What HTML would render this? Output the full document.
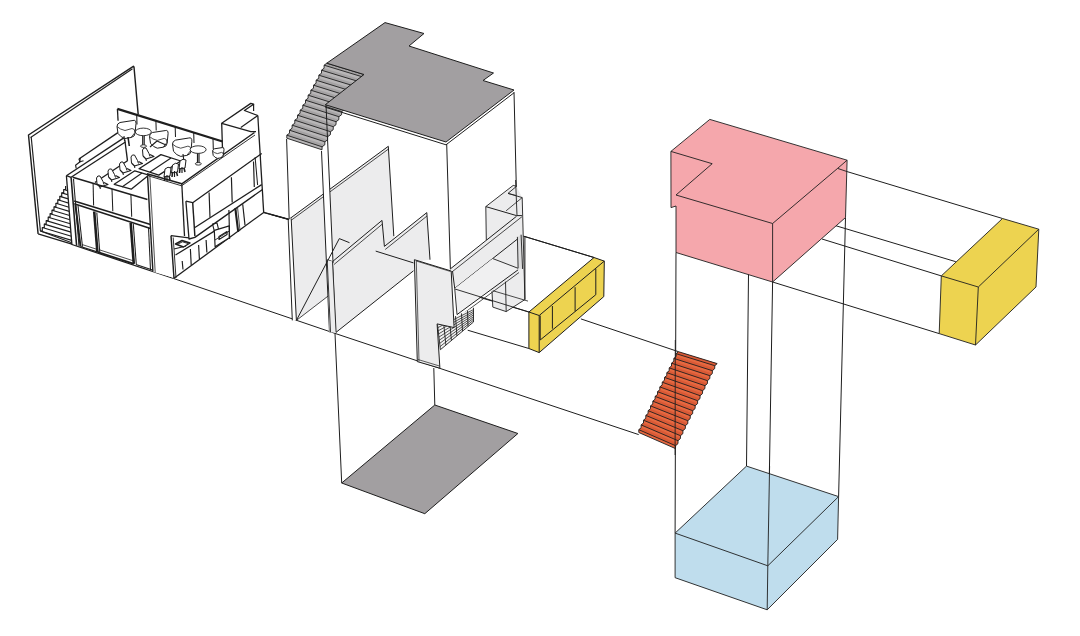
<!DOCTYPE html>
<html><head><meta charset="utf-8"><style>
html,body{margin:0;padding:0;background:#fff;}
svg{display:block;}
</style></head><body>
<svg width="1080" height="636" viewBox="0 0 1080 636">
<rect width="1080" height="636" fill="#fff"/>
<polyline points="173.6,278.5 335.0,333.4 438.8,368.0 638.7,434.6" fill="none" stroke="#1e1e1e" stroke-width="1.0" stroke-linejoin="round"/>
<line x1="263.2" y1="212.4" x2="289.2" y2="219.5" stroke="#1e1e1e" stroke-width="1.0"/>
<line x1="270.0" y1="214.2" x2="289.2" y2="219.5" stroke="#1e1e1e" stroke-width="1.0"/>
<line x1="375.7" y1="250.7" x2="414.7" y2="263.3" stroke="#1e1e1e" stroke-width="1.0"/>
<line x1="521.6" y1="235.6" x2="594.0" y2="257.5" stroke="#1e1e1e" stroke-width="1.0"/>
<line x1="580.9" y1="318.9" x2="678.5" y2="351.7" stroke="#1e1e1e" stroke-width="1.0"/>
<line x1="467.7" y1="330.2" x2="528.9" y2="348.5" stroke="#1e1e1e" stroke-width="1.0"/>
<line x1="455.0" y1="290.0" x2="528.9" y2="312.0" stroke="#1e1e1e" stroke-width="1.0"/>
<line x1="335.0" y1="333.4" x2="341.7" y2="483.0" stroke="#1e1e1e" stroke-width="1.0"/>
<line x1="433.8" y1="368.0" x2="434.8" y2="405.0" stroke="#1e1e1e" stroke-width="1.0"/>
<line x1="676.0" y1="252.5" x2="675.1" y2="533.1" stroke="#1e1e1e" stroke-width="1.0"/>
<line x1="748.6" y1="265.0" x2="746.5" y2="466.1" stroke="#1e1e1e" stroke-width="1.0"/>
<line x1="772.6" y1="282.0" x2="767.8" y2="565.8" stroke="#1e1e1e" stroke-width="1.0"/>
<line x1="845.5" y1="217.5" x2="838.6" y2="496.6" stroke="#1e1e1e" stroke-width="1.0"/>
<line x1="847.1" y1="171.6" x2="1002.5" y2="218.5" stroke="#1e1e1e" stroke-width="1.0"/>
<line x1="835.4" y1="225.6" x2="955.8" y2="261.7" stroke="#1e1e1e" stroke-width="1.0"/>
<line x1="822.0" y1="239.0" x2="941.3" y2="275.9" stroke="#1e1e1e" stroke-width="1.0"/>
<line x1="772.6" y1="282.0" x2="939.2" y2="333.6" stroke="#1e1e1e" stroke-width="1.0"/>
<polygon points="434.8,405.0 517.9,433.5 424.8,513.7 341.7,483.0" fill="#a29fa1" stroke="#1e1e1e" stroke-width="1.0" stroke-linejoin="round"/>
<polygon points="709.8,119.4 847.1,160.2 845.5,217.5 772.6,282.0 676.0,252.5 676.0,206.0 671.0,207.6 670.9,151.4" fill="#f5a7ac" stroke="#1e1e1e" stroke-width="0.9" stroke-linejoin="round"/>
<polyline points="670.9,151.4 712.2,163.7 676.0,195.0 772.6,223.5 837.6,168.4 847.1,160.2" fill="none" stroke="#1e1e1e" stroke-width="0.9" stroke-linejoin="round"/>
<line x1="772.6" y1="223.5" x2="772.6" y2="282.0" stroke="#1e1e1e" stroke-width="0.9"/>
<line x1="837.6" y1="168.4" x2="847.1" y2="171.6" stroke="#1e1e1e" stroke-width="0.9"/>
<polygon points="746.5,466.1 838.6,496.6 837.6,539.4 767.2,609.8 675.1,577.7 675.1,533.1" fill="#bfdded" stroke="#1e1e1e" stroke-width="0.9" stroke-linejoin="round"/>
<polyline points="675.1,533.1 767.8,565.8 838.6,496.6" fill="none" stroke="#1e1e1e" stroke-width="0.9" stroke-linejoin="round"/>
<line x1="767.8" y1="565.8" x2="767.2" y2="609.8" stroke="#1e1e1e" stroke-width="0.9"/>
<line x1="769.6" y1="466.0" x2="767.8" y2="565.8" stroke="#1e1e1e" stroke-width="0.9"/>
<polygon points="1002.5,218.5 1038.8,229.2 1036.0,287.0 975.5,345.0 939.2,333.6 941.3,275.9" fill="#edd350" stroke="#1e1e1e" stroke-width="0.9" stroke-linejoin="round"/>
<polyline points="941.3,275.9 978.3,287.0 1038.8,229.2" fill="none" stroke="#1e1e1e" stroke-width="0.9" stroke-linejoin="round"/>
<line x1="978.3" y1="287.0" x2="975.5" y2="345.0" stroke="#1e1e1e" stroke-width="0.9"/>
<polygon points="594.0,257.5 604.3,261.1 603.8,296.6 539.2,352.6 528.9,348.5 528.9,312.0" fill="#edd350" stroke="#1e1e1e" stroke-width="1.0" stroke-linejoin="round"/>
<polyline points="528.9,312.0 539.2,315.5 604.3,261.1" fill="none" stroke="#1e1e1e" stroke-width="1.0" stroke-linejoin="round"/>
<line x1="539.2" y1="315.5" x2="539.2" y2="352.6" stroke="#1e1e1e" stroke-width="1.0"/>
<polyline points="540.2,315.5 540.2,340.0 595.8,294.7 595.8,268.7" fill="none" stroke="#1e1e1e" stroke-width="1.0" stroke-linejoin="round"/>
<line x1="552.4" y1="306.0" x2="552.4" y2="328.7" stroke="#1e1e1e" stroke-width="1.0"/>
<line x1="575.1" y1="287.2" x2="575.1" y2="311.3" stroke="#1e1e1e" stroke-width="1.0"/>
<polygon points="678.5,351.7 676.2,353.7 676.2,356.5 673.8,358.4 673.8,361.2 671.5,363.2 671.5,366.0 669.2,367.9 669.2,370.7 666.8,372.7 666.8,375.5 664.5,377.4 664.5,380.2 662.2,382.2 662.2,385.0 659.8,386.9 659.8,389.7 657.5,391.7 657.5,394.5 655.1,396.4 655.1,399.2 652.8,401.2 652.8,404.0 650.5,405.9 650.5,408.7 648.1,410.7 648.1,413.5 645.8,415.4 645.8,418.2 643.5,420.2 643.5,423.0 641.1,424.9 641.1,427.7 638.8,429.7 638.8,432.5 675.5,448.6 675.6,445.7 678.0,443.6 678.0,440.7 680.4,438.6 680.5,435.7 682.9,433.6 682.9,430.7 685.3,428.6 685.4,425.7 687.8,423.6 687.8,420.7 690.2,418.6 690.3,415.7 692.7,413.6 692.7,410.7 695.1,408.6 695.2,405.7 697.6,403.6 697.6,400.7 700.0,398.6 700.1,395.7 702.5,393.6 702.6,390.7 704.9,388.6 705.0,385.7 707.4,383.6 707.5,380.7 709.8,378.6 709.9,375.7 712.3,373.6 712.4,370.7 714.7,368.6 714.8,365.7 717.2,363.6" fill="#e66840" stroke="none" stroke-linejoin="round"/>
<polygon points="678.5,351.7 717.2,363.6 714.8,365.7 676.2,353.7" fill="#d95a36" stroke="none" stroke-linejoin="round"/>
<polygon points="676.2,356.5 714.7,368.6 712.4,370.7 673.8,358.4" fill="#d95a36" stroke="none" stroke-linejoin="round"/>
<polygon points="673.8,361.2 712.3,373.6 709.9,375.7 671.5,363.2" fill="#d95a36" stroke="none" stroke-linejoin="round"/>
<polygon points="671.5,366.0 709.8,378.6 707.5,380.7 669.2,367.9" fill="#d95a36" stroke="none" stroke-linejoin="round"/>
<polygon points="669.2,370.7 707.4,383.6 705.0,385.7 666.8,372.7" fill="#d95a36" stroke="none" stroke-linejoin="round"/>
<polygon points="666.8,375.5 704.9,388.6 702.6,390.7 664.5,377.4" fill="#d95a36" stroke="none" stroke-linejoin="round"/>
<polygon points="664.5,380.2 702.5,393.6 700.1,395.7 662.2,382.2" fill="#d95a36" stroke="none" stroke-linejoin="round"/>
<polygon points="662.2,385.0 700.0,398.6 697.6,400.7 659.8,386.9" fill="#d95a36" stroke="none" stroke-linejoin="round"/>
<polygon points="659.8,389.7 697.6,403.6 695.2,405.7 657.5,391.7" fill="#d95a36" stroke="none" stroke-linejoin="round"/>
<polygon points="657.5,394.5 695.1,408.6 692.7,410.7 655.1,396.4" fill="#d95a36" stroke="none" stroke-linejoin="round"/>
<polygon points="655.1,399.2 692.7,413.6 690.3,415.7 652.8,401.2" fill="#d95a36" stroke="none" stroke-linejoin="round"/>
<polygon points="652.8,404.0 690.2,418.6 687.8,420.7 650.5,405.9" fill="#d95a36" stroke="none" stroke-linejoin="round"/>
<polygon points="650.5,408.7 687.8,423.6 685.4,425.7 648.1,410.7" fill="#d95a36" stroke="none" stroke-linejoin="round"/>
<polygon points="648.1,413.5 685.3,428.6 682.9,430.7 645.8,415.4" fill="#d95a36" stroke="none" stroke-linejoin="round"/>
<polygon points="645.8,418.2 682.9,433.6 680.5,435.7 643.5,420.2" fill="#d95a36" stroke="none" stroke-linejoin="round"/>
<polygon points="643.5,423.0 680.4,438.6 678.0,440.7 641.1,424.9" fill="#d95a36" stroke="none" stroke-linejoin="round"/>
<polygon points="641.1,427.7 678.0,443.6 675.6,445.7 638.8,429.7" fill="#d95a36" stroke="none" stroke-linejoin="round"/>
<polyline points="676.2,353.7 714.8,365.7" fill="none" stroke="#1e1e1e" stroke-width="0.9" stroke-linejoin="round"/>
<polyline points="673.8,358.4 712.4,370.7" fill="none" stroke="#1e1e1e" stroke-width="0.9" stroke-linejoin="round"/>
<polyline points="671.5,363.2 709.9,375.7" fill="none" stroke="#1e1e1e" stroke-width="0.9" stroke-linejoin="round"/>
<polyline points="669.2,367.9 707.5,380.7" fill="none" stroke="#1e1e1e" stroke-width="0.9" stroke-linejoin="round"/>
<polyline points="666.8,372.7 705.0,385.7" fill="none" stroke="#1e1e1e" stroke-width="0.9" stroke-linejoin="round"/>
<polyline points="664.5,377.4 702.6,390.7" fill="none" stroke="#1e1e1e" stroke-width="0.9" stroke-linejoin="round"/>
<polyline points="662.2,382.2 700.1,395.7" fill="none" stroke="#1e1e1e" stroke-width="0.9" stroke-linejoin="round"/>
<polyline points="659.8,386.9 697.6,400.7" fill="none" stroke="#1e1e1e" stroke-width="0.9" stroke-linejoin="round"/>
<polyline points="657.5,391.7 695.2,405.7" fill="none" stroke="#1e1e1e" stroke-width="0.9" stroke-linejoin="round"/>
<polyline points="655.1,396.4 692.7,410.7" fill="none" stroke="#1e1e1e" stroke-width="0.9" stroke-linejoin="round"/>
<polyline points="652.8,401.2 690.3,415.7" fill="none" stroke="#1e1e1e" stroke-width="0.9" stroke-linejoin="round"/>
<polyline points="650.5,405.9 687.8,420.7" fill="none" stroke="#1e1e1e" stroke-width="0.9" stroke-linejoin="round"/>
<polyline points="648.1,410.7 685.4,425.7" fill="none" stroke="#1e1e1e" stroke-width="0.9" stroke-linejoin="round"/>
<polyline points="645.8,415.4 682.9,430.7" fill="none" stroke="#1e1e1e" stroke-width="0.9" stroke-linejoin="round"/>
<polyline points="643.5,420.2 680.5,435.7" fill="none" stroke="#1e1e1e" stroke-width="0.9" stroke-linejoin="round"/>
<polyline points="641.1,424.9 678.0,440.7" fill="none" stroke="#1e1e1e" stroke-width="0.9" stroke-linejoin="round"/>
<polyline points="638.8,429.7 675.6,445.7" fill="none" stroke="#1e1e1e" stroke-width="0.9" stroke-linejoin="round"/>
<polyline points="638.8,432.5 675.5,448.6" fill="none" stroke="#1e1e1e" stroke-width="0.9" stroke-linejoin="round"/>
<polyline points="678.5,351.7 717.2,363.6" fill="none" stroke="#1e1e1e" stroke-width="0.9" stroke-linejoin="round"/>
<polyline points="678.5,351.7 676.2,353.7 676.2,356.5 673.8,358.4 673.8,361.2 671.5,363.2 671.5,366.0 669.2,367.9 669.2,370.7 666.8,372.7 666.8,375.5 664.5,377.4 664.5,380.2 662.2,382.2 662.2,385.0 659.8,386.9 659.8,389.7 657.5,391.7 657.5,394.5 655.1,396.4 655.1,399.2 652.8,401.2 652.8,404.0 650.5,405.9 650.5,408.7 648.1,410.7 648.1,413.5 645.8,415.4 645.8,418.2 643.5,420.2 643.5,423.0 641.1,424.9 641.1,427.7 638.8,429.7 638.8,432.5" fill="none" stroke="#1e1e1e" stroke-width="0.9" stroke-linejoin="round"/>
<polyline points="717.2,363.6 714.8,365.7 714.7,368.6 712.4,370.7 712.3,373.6 709.9,375.7 709.8,378.6 707.5,380.7 707.4,383.6 705.0,385.7 704.9,388.6 702.6,390.7 702.5,393.6 700.1,395.7 700.0,398.6 697.6,400.7 697.6,403.6 695.2,405.7 695.1,408.6 692.7,410.7 692.7,413.6 690.3,415.7 690.2,418.6 687.8,420.7 687.8,423.6 685.4,425.7 685.3,428.6 682.9,430.7 682.9,433.6 680.5,435.7 680.4,438.6 678.0,440.7 678.0,443.6 675.6,445.7 675.5,448.6" fill="none" stroke="#1e1e1e" stroke-width="0.9" stroke-linejoin="round"/>
<line x1="675.3" y1="340.0" x2="675.1" y2="455.0" stroke="#1e1e1e" stroke-width="0.9"/>
<polygon points="326.8,63.2 324.1,65.2 324.1,68.2 321.5,70.2 321.5,73.2 318.8,75.2 318.8,78.2 316.1,80.2 316.1,83.2 313.5,85.2 313.5,88.2 310.8,90.2 310.8,93.2 308.1,95.2 308.1,98.2 305.5,100.2 305.5,103.2 302.8,105.2 302.8,108.2 300.1,110.2 300.1,113.2 297.5,115.2 297.5,118.2 294.8,120.2 294.8,123.2 292.1,125.2 292.1,128.2 289.5,130.2 289.5,133.2 286.8,135.2 286.8,138.2 322.0,149.8 322.1,146.8 324.8,144.8 324.9,141.8 327.6,139.8 327.7,136.7 330.4,134.7 330.5,131.7 333.2,129.7 333.3,126.7 336.0,124.7 336.1,121.7 338.8,119.7 338.9,116.7 341.6,114.7 341.7,111.6 344.4,109.6 344.5,106.6 347.2,104.6 347.3,101.6 350.0,99.6 350.1,96.6 352.8,94.6 352.9,91.6 355.6,89.6 355.7,86.5 358.4,84.5 358.5,81.5 361.2,79.5 361.3,76.5 364.0,74.5" fill="#b8b6b7" stroke="none" stroke-linejoin="round"/>
<polygon points="326.8,63.2 364.0,74.5 361.3,76.5 324.1,65.2" fill="#a5a3a4" stroke="none" stroke-linejoin="round"/>
<polygon points="324.1,68.2 361.2,79.5 358.5,81.5 321.5,70.2" fill="#a5a3a4" stroke="none" stroke-linejoin="round"/>
<polygon points="321.5,73.2 358.4,84.5 355.7,86.5 318.8,75.2" fill="#a5a3a4" stroke="none" stroke-linejoin="round"/>
<polygon points="318.8,78.2 355.6,89.6 352.9,91.6 316.1,80.2" fill="#a5a3a4" stroke="none" stroke-linejoin="round"/>
<polygon points="316.1,83.2 352.8,94.6 350.1,96.6 313.5,85.2" fill="#a5a3a4" stroke="none" stroke-linejoin="round"/>
<polygon points="313.5,88.2 350.0,99.6 347.3,101.6 310.8,90.2" fill="#a5a3a4" stroke="none" stroke-linejoin="round"/>
<polygon points="310.8,93.2 347.2,104.6 344.5,106.6 308.1,95.2" fill="#a5a3a4" stroke="none" stroke-linejoin="round"/>
<polygon points="308.1,98.2 344.4,109.6 341.7,111.6 305.5,100.2" fill="#a5a3a4" stroke="none" stroke-linejoin="round"/>
<polygon points="305.5,103.2 341.6,114.7 338.9,116.7 302.8,105.2" fill="#a5a3a4" stroke="none" stroke-linejoin="round"/>
<polygon points="302.8,108.2 338.8,119.7 336.1,121.7 300.1,110.2" fill="#a5a3a4" stroke="none" stroke-linejoin="round"/>
<polygon points="300.1,113.2 336.0,124.7 333.3,126.7 297.5,115.2" fill="#a5a3a4" stroke="none" stroke-linejoin="round"/>
<polygon points="297.5,118.2 333.2,129.7 330.5,131.7 294.8,120.2" fill="#a5a3a4" stroke="none" stroke-linejoin="round"/>
<polygon points="294.8,123.2 330.4,134.7 327.7,136.7 292.1,125.2" fill="#a5a3a4" stroke="none" stroke-linejoin="round"/>
<polygon points="292.1,128.2 327.6,139.8 324.9,141.8 289.5,130.2" fill="#a5a3a4" stroke="none" stroke-linejoin="round"/>
<polygon points="289.5,133.2 324.8,144.8 322.1,146.8 286.8,135.2" fill="#a5a3a4" stroke="none" stroke-linejoin="round"/>
<polyline points="324.1,65.2 361.3,76.5" fill="none" stroke="#1e1e1e" stroke-width="0.9" stroke-linejoin="round"/>
<polyline points="321.5,70.2 358.5,81.5" fill="none" stroke="#1e1e1e" stroke-width="0.9" stroke-linejoin="round"/>
<polyline points="318.8,75.2 355.7,86.5" fill="none" stroke="#1e1e1e" stroke-width="0.9" stroke-linejoin="round"/>
<polyline points="316.1,80.2 352.9,91.6" fill="none" stroke="#1e1e1e" stroke-width="0.9" stroke-linejoin="round"/>
<polyline points="313.5,85.2 350.1,96.6" fill="none" stroke="#1e1e1e" stroke-width="0.9" stroke-linejoin="round"/>
<polyline points="310.8,90.2 347.3,101.6" fill="none" stroke="#1e1e1e" stroke-width="0.9" stroke-linejoin="round"/>
<polyline points="308.1,95.2 344.5,106.6" fill="none" stroke="#1e1e1e" stroke-width="0.9" stroke-linejoin="round"/>
<polyline points="305.5,100.2 341.7,111.6" fill="none" stroke="#1e1e1e" stroke-width="0.9" stroke-linejoin="round"/>
<polyline points="302.8,105.2 338.9,116.7" fill="none" stroke="#1e1e1e" stroke-width="0.9" stroke-linejoin="round"/>
<polyline points="300.1,110.2 336.1,121.7" fill="none" stroke="#1e1e1e" stroke-width="0.9" stroke-linejoin="round"/>
<polyline points="297.5,115.2 333.3,126.7" fill="none" stroke="#1e1e1e" stroke-width="0.9" stroke-linejoin="round"/>
<polyline points="294.8,120.2 330.5,131.7" fill="none" stroke="#1e1e1e" stroke-width="0.9" stroke-linejoin="round"/>
<polyline points="292.1,125.2 327.7,136.7" fill="none" stroke="#1e1e1e" stroke-width="0.9" stroke-linejoin="round"/>
<polyline points="289.5,130.2 324.9,141.8" fill="none" stroke="#1e1e1e" stroke-width="0.9" stroke-linejoin="round"/>
<polyline points="286.8,135.2 322.1,146.8" fill="none" stroke="#1e1e1e" stroke-width="0.9" stroke-linejoin="round"/>
<polyline points="286.8,138.2 322.0,149.8" fill="none" stroke="#1e1e1e" stroke-width="0.9" stroke-linejoin="round"/>
<polyline points="326.8,63.2 364.0,74.5" fill="none" stroke="#1e1e1e" stroke-width="0.9" stroke-linejoin="round"/>
<polyline points="326.8,63.2 324.1,65.2 324.1,68.2 321.5,70.2 321.5,73.2 318.8,75.2 318.8,78.2 316.1,80.2 316.1,83.2 313.5,85.2 313.5,88.2 310.8,90.2 310.8,93.2 308.1,95.2 308.1,98.2 305.5,100.2 305.5,103.2 302.8,105.2 302.8,108.2 300.1,110.2 300.1,113.2 297.5,115.2 297.5,118.2 294.8,120.2 294.8,123.2 292.1,125.2 292.1,128.2 289.5,130.2 289.5,133.2 286.8,135.2 286.8,138.2" fill="none" stroke="#1e1e1e" stroke-width="0.9" stroke-linejoin="round"/>
<polyline points="364.0,74.5 361.3,76.5 361.2,79.5 358.5,81.5 358.4,84.5 355.7,86.5 355.6,89.6 352.9,91.6 352.8,94.6 350.1,96.6 350.0,99.6 347.3,101.6 347.2,104.6 344.5,106.6 344.4,109.6 341.7,111.6 341.6,114.7 338.9,116.7 338.8,119.7 336.1,121.7 336.0,124.7 333.3,126.7 333.2,129.7 330.5,131.7 330.4,134.7 327.7,136.7 327.6,139.8 324.9,141.8 324.8,144.8 322.1,146.8 322.0,149.8" fill="none" stroke="#1e1e1e" stroke-width="0.9" stroke-linejoin="round"/>
<polygon points="385.0,22.6 424.0,33.5 409.0,46.0 493.5,73.0 483.0,80.5 514.0,90.0 446.0,142.0 325.3,104.7 364.0,74.5 326.8,63.2" fill="#a29fa1" stroke="#1e1e1e" stroke-width="1.0" stroke-linejoin="round"/>
<polyline points="325.3,107.2 446.0,144.8 514.0,92.8" fill="none" stroke="#1e1e1e" stroke-width="1.0" stroke-linejoin="round"/>
<line x1="446.7" y1="144.0" x2="450.4" y2="269.5" stroke="#1e1e1e" stroke-width="1.0"/>
<line x1="514.0" y1="92.0" x2="517.0" y2="215.6" stroke="#1e1e1e" stroke-width="1.0"/>
<line x1="286.6" y1="139.0" x2="289.2" y2="219.5" stroke="#1e1e1e" stroke-width="1.0"/>
<polygon points="288.9,219.3 388.3,146.3 393.8,236.2 393.8,249.0 328.3,295.9 296.4,320.4" fill="#ececed" stroke="none" stroke-linejoin="round"/>
<polyline points="288.9,219.3 388.3,146.3 393.8,236.2" fill="none" stroke="#1e1e1e" stroke-width="1.0" stroke-linejoin="round"/>
<polyline points="289.5,221.5 388.8,148.8" fill="none" stroke="#1e1e1e" stroke-width="0.8" stroke-linejoin="round"/>
<polygon points="288.2,219.2 291.2,218.2 296.4,320.4 292.3,320.4" fill="#ffffff" stroke="none" stroke-linejoin="round"/>
<line x1="288.2" y1="219.2" x2="292.3" y2="320.4" stroke="#1e1e1e" stroke-width="1.0"/>
<line x1="291.2" y1="218.5" x2="296.4" y2="320.4" stroke="#1e1e1e" stroke-width="1.0"/>
<polygon points="321.5,151.0 328.2,150.0 336.1,332.3 329.5,332.3" fill="#ffffff" stroke="none" stroke-linejoin="round"/>
<line x1="326.0" y1="104.7" x2="336.1" y2="332.3" stroke="#1e1e1e" stroke-width="1.0"/>
<line x1="321.5" y1="151.0" x2="329.5" y2="332.3" stroke="#1e1e1e" stroke-width="1.0"/>
<polygon points="333.0,261.5 382.0,220.4 384.4,246.4 426.8,212.6 430.0,259.7 414.2,262.0 413.5,270.8 336.1,332.3" fill="#ececed" stroke="none" stroke-linejoin="round"/>
<polyline points="332.0,262.0 382.0,220.4 384.4,246.4 426.8,212.6 430.0,259.7" fill="none" stroke="#1e1e1e" stroke-width="1.0" stroke-linejoin="round"/>
<polyline points="334.0,264.5 382.2,224.2" fill="none" stroke="#1e1e1e" stroke-width="0.8" stroke-linejoin="round"/>
<polyline points="385.2,249.5 427.0,216.0" fill="none" stroke="#1e1e1e" stroke-width="0.8" stroke-linejoin="round"/>
<line x1="336.1" y1="332.3" x2="413.5" y2="270.8" stroke="#1e1e1e" stroke-width="1.0"/>
<line x1="375.7" y1="251.1" x2="413.5" y2="262.9" stroke="#1e1e1e" stroke-width="1.0"/>
<line x1="327.3" y1="259.6" x2="334.0" y2="262.2" stroke="#1e1e1e" stroke-width="1.0"/>
<polygon points="327.2,260.0 332.5,261.5 336.1,332.3 329.5,332.3" fill="#ececed" stroke="none" stroke-linejoin="round"/>
<line x1="327.2" y1="260.0" x2="330.5" y2="332.3" stroke="#1e1e1e" stroke-width="0.9"/>
<line x1="332.5" y1="261.5" x2="336.1" y2="332.3" stroke="#1e1e1e" stroke-width="0.9"/>
<polyline points="296.4,320.4 339.3,238.6 349.5,242.7" fill="none" stroke="#1e1e1e" stroke-width="1.0" stroke-linejoin="round"/>
<line x1="296.4" y1="320.4" x2="328.3" y2="295.9" stroke="#1e1e1e" stroke-width="0.8"/>
<polygon points="485.8,206.6 513.2,185.4 516.5,186.3 522.2,197.6 524.9,299.6 506.2,311.6 492.8,307.1 486.3,240.0" fill="#ececed" stroke="none" stroke-linejoin="round"/>
<polyline points="486.3,240.0 485.8,206.6 513.2,185.4 516.5,186.3 508.0,193.4 522.2,197.6 524.9,299.6" fill="none" stroke="#1e1e1e" stroke-width="0.9" stroke-linejoin="round"/>
<polyline points="485.8,206.6 516.5,215.6 522.2,215.6" fill="none" stroke="#1e1e1e" stroke-width="1.0" stroke-linejoin="round"/>
<polyline points="522.2,197.6 506.1,210.8" fill="none" stroke="#1e1e1e" stroke-width="0.8" stroke-linejoin="round"/>
<line x1="515.6" y1="180.0" x2="517.0" y2="215.6" stroke="#1e1e1e" stroke-width="0.9"/>
<polyline points="508.0,193.4 516.0,195.5" fill="none" stroke="#1e1e1e" stroke-width="0.8" stroke-linejoin="round"/>
<polygon points="450.2,269.0 507.7,225.0 522.2,215.6 521.1,236.2 454.7,288.4" fill="#ececed" stroke="none" stroke-linejoin="round"/>
<polyline points="450.2,269.0 516.5,216.3" fill="none" stroke="#1e1e1e" stroke-width="1.0" stroke-linejoin="round"/>
<polyline points="452.5,271.5 522.2,216.5" fill="none" stroke="#1e1e1e" stroke-width="0.8" stroke-linejoin="round"/>
<polyline points="452.5,271.0 454.7,288.4 521.1,236.2" fill="none" stroke="#1e1e1e" stroke-width="1.0" stroke-linejoin="round"/>
<polygon points="454.7,288.4 492.8,258.6 518.1,268.3 457.0,314.6" fill="#f0f0f1" stroke="none" stroke-linejoin="round"/>
<polyline points="492.8,258.6 518.1,268.3" fill="none" stroke="#1e1e1e" stroke-width="0.9" stroke-linejoin="round"/>
<polyline points="454.7,288.4 457.0,314.6" fill="none" stroke="#1e1e1e" stroke-width="0.9" stroke-linejoin="round"/>
<polyline points="457.0,314.6 518.1,269.8" fill="none" stroke="#1e1e1e" stroke-width="1.0" stroke-linejoin="round"/>
<polyline points="458.0,317.5 519.0,272.5" fill="none" stroke="#1e1e1e" stroke-width="0.8" stroke-linejoin="round"/>
<polygon points="517.4,236.9 521.1,234.7 522.6,269.0 518.1,268.3" fill="#dcdcdd" stroke="none" stroke-linejoin="round"/>
<line x1="517.4" y1="236.9" x2="518.1" y2="268.3" stroke="#1e1e1e" stroke-width="0.9"/>
<line x1="521.1" y1="234.7" x2="522.6" y2="269.0" stroke="#1e1e1e" stroke-width="0.9"/>
<line x1="524.9" y1="236.0" x2="524.9" y2="299.6" stroke="#1e1e1e" stroke-width="1.0"/>
<line x1="492.0" y1="291.4" x2="492.8" y2="307.1" stroke="#1e1e1e" stroke-width="0.9"/>
<line x1="505.5" y1="281.7" x2="506.2" y2="311.6" stroke="#1e1e1e" stroke-width="0.9"/>
<polyline points="492.8,307.1 506.2,311.6 524.9,299.6" fill="none" stroke="#1e1e1e" stroke-width="0.9" stroke-linejoin="round"/>
<polyline points="492.8,290.7 528.0,301.1" fill="none" stroke="#1e1e1e" stroke-width="0.8" stroke-linejoin="round"/>
<line x1="524.0" y1="236.3" x2="594.0" y2="257.5" stroke="#1e1e1e" stroke-width="1.0"/>
<line x1="455.0" y1="289.0" x2="528.9" y2="312.0" stroke="#1e1e1e" stroke-width="0.9"/>
<polygon points="437.5,324.5 473.5,307.8 473.5,322.0 440.4,349.7" fill="#f2f2f2" stroke="none" stroke-linejoin="round"/>
<line x1="437.5" y1="324.5" x2="440.4" y2="349.7" stroke="#1e1e1e" stroke-width="0.9"/>
<line x1="443.5" y1="321.7" x2="445.9" y2="345.1" stroke="#1e1e1e" stroke-width="0.9"/>
<line x1="449.5" y1="318.9" x2="451.4" y2="340.5" stroke="#1e1e1e" stroke-width="0.9"/>
<line x1="455.5" y1="316.1" x2="456.9" y2="335.9" stroke="#1e1e1e" stroke-width="0.9"/>
<line x1="461.5" y1="313.4" x2="462.5" y2="331.2" stroke="#1e1e1e" stroke-width="0.9"/>
<line x1="467.5" y1="310.6" x2="468.0" y2="326.6" stroke="#1e1e1e" stroke-width="0.9"/>
<line x1="473.5" y1="307.8" x2="473.5" y2="322.0" stroke="#1e1e1e" stroke-width="0.9"/>
<line x1="437.9" y1="327.6" x2="473.5" y2="309.6" stroke="#1e1e1e" stroke-width="0.75"/>
<line x1="438.2" y1="330.8" x2="473.5" y2="311.4" stroke="#1e1e1e" stroke-width="0.75"/>
<line x1="438.6" y1="333.9" x2="473.5" y2="313.1" stroke="#1e1e1e" stroke-width="0.75"/>
<line x1="438.9" y1="337.1" x2="473.5" y2="314.9" stroke="#1e1e1e" stroke-width="0.75"/>
<line x1="439.3" y1="340.2" x2="473.5" y2="316.7" stroke="#1e1e1e" stroke-width="0.75"/>
<line x1="439.7" y1="343.4" x2="473.5" y2="318.4" stroke="#1e1e1e" stroke-width="0.75"/>
<line x1="440.0" y1="346.6" x2="473.5" y2="320.2" stroke="#1e1e1e" stroke-width="0.75"/>
<polyline points="440.4,349.7 473.5,322.0" fill="none" stroke="#1e1e1e" stroke-width="0.9" stroke-linejoin="round"/>
<polygon points="414.4,259.7 451.2,271.0 454.1,327.6 437.1,323.9 439.9,368.2 417.3,361.6" fill="#ececed" stroke="none" stroke-linejoin="round"/>
<polyline points="417.3,361.6 414.4,259.7 451.2,271.0 454.1,327.6 437.1,323.9 439.9,368.2 417.3,361.6" fill="none" stroke="#1e1e1e" stroke-width="1.0" stroke-linejoin="round"/>
<polyline points="416.3,261.0 450.5,271.5" fill="none" stroke="#1e1e1e" stroke-width="0.7" stroke-linejoin="round"/>
<polyline points="416.3,261.0 419.0,361.5" fill="none" stroke="#1e1e1e" stroke-width="0.7" stroke-linejoin="round"/>
<polyline points="418.0,359.5 439.5,366.0" fill="none" stroke="#1e1e1e" stroke-width="0.7" stroke-linejoin="round"/>
<polygon points="28.5,135.0 133.3,66.3 138.2,114.4 38.1,233.9" fill="#ffffff" stroke="none" stroke-linejoin="round"/>
<polyline points="38.1,233.9 28.5,135.0 133.3,66.3 134.0,67.0 138.2,114.4" fill="none" stroke="#1e1e1e" stroke-width="1.43" stroke-linejoin="round"/>
<polyline points="30.6,137.4 132.5,68.8" fill="none" stroke="#1e1e1e" stroke-width="1.17" stroke-linejoin="round"/>
<polyline points="31.2,137.0 40.4,231.0" fill="none" stroke="#1e1e1e" stroke-width="1.17" stroke-linejoin="round"/>
<polyline points="38.1,233.9 71.9,244.1" fill="none" stroke="#1e1e1e" stroke-width="1.3" stroke-linejoin="round"/>
<polygon points="65.6,186.0 65.6,189.5 63.7,189.5 63.7,192.9 61.7,192.9 61.7,196.4 59.8,196.4 59.8,199.8 57.8,199.8 57.8,203.3 55.9,203.3 55.9,206.8 54.0,206.8 54.0,210.2 52.0,210.2 52.0,213.7 50.1,213.7 50.1,217.2 48.2,217.2 48.2,220.6 46.2,220.6 46.2,224.1 44.3,224.1 44.3,227.5 42.3,227.5 42.3,231.0 40.4,231.0 71.1,242.5 72.0,186.0" fill="#ffffff" stroke="none" stroke-linejoin="round"/>
<polyline points="65.6,186.0 65.6,189.5 63.7,189.5 63.7,192.9 61.7,192.9 61.7,196.4 59.8,196.4 59.8,199.8 57.8,199.8 57.8,203.3 55.9,203.3 55.9,206.8 54.0,206.8 54.0,210.2 52.0,210.2 52.0,213.7 50.1,213.7 50.1,217.2 48.2,217.2 48.2,220.6 46.2,220.6 46.2,224.1 44.3,224.1 44.3,227.5 42.3,227.5 42.3,231.0 40.4,231.0" fill="none" stroke="#1e1e1e" stroke-width="1.17" stroke-linejoin="round"/>
<line x1="63.7" y1="189.5" x2="70.9" y2="191.6" stroke="#1e1e1e" stroke-width="1.17"/>
<line x1="61.7" y1="192.9" x2="71.2" y2="195.8" stroke="#1e1e1e" stroke-width="1.17"/>
<line x1="59.8" y1="196.4" x2="71.6" y2="199.9" stroke="#1e1e1e" stroke-width="1.17"/>
<line x1="57.8" y1="199.8" x2="71.9" y2="204.1" stroke="#1e1e1e" stroke-width="1.17"/>
<line x1="55.9" y1="203.3" x2="72.3" y2="208.2" stroke="#1e1e1e" stroke-width="1.17"/>
<line x1="54.0" y1="206.8" x2="72.6" y2="212.4" stroke="#1e1e1e" stroke-width="1.17"/>
<line x1="52.0" y1="210.2" x2="73.0" y2="216.5" stroke="#1e1e1e" stroke-width="1.17"/>
<line x1="50.1" y1="213.7" x2="73.3" y2="220.7" stroke="#1e1e1e" stroke-width="1.17"/>
<line x1="48.2" y1="217.2" x2="73.7" y2="224.8" stroke="#1e1e1e" stroke-width="1.17"/>
<line x1="46.2" y1="220.6" x2="74.0" y2="229.0" stroke="#1e1e1e" stroke-width="1.17"/>
<line x1="44.3" y1="224.1" x2="74.4" y2="233.1" stroke="#1e1e1e" stroke-width="1.17"/>
<line x1="42.3" y1="227.5" x2="74.7" y2="237.3" stroke="#1e1e1e" stroke-width="1.17"/>
<line x1="40.4" y1="231.0" x2="75.1" y2="241.4" stroke="#1e1e1e" stroke-width="1.17"/>
<polyline points="40.4,231.0 71.1,242.5" fill="none" stroke="#1e1e1e" stroke-width="1.17" stroke-linejoin="round"/>
<polyline points="66.4,175.7 124.2,137.6" fill="none" stroke="#1e1e1e" stroke-width="1.3" stroke-linejoin="round"/>
<polyline points="71.1,177.3 125.4,142.0" fill="none" stroke="#1e1e1e" stroke-width="1.3" stroke-linejoin="round"/>
<polyline points="78.9,159.0 117.9,132.6" fill="none" stroke="#1e1e1e" stroke-width="1.3" stroke-linejoin="round"/>
<polyline points="78.9,159.0 80.0,161.8 83.5,160.8" fill="none" stroke="#1e1e1e" stroke-width="1.17" stroke-linejoin="round"/>
<polyline points="80.0,161.8 75.6,165.2 76.2,168.5" fill="none" stroke="#1e1e1e" stroke-width="1.17" stroke-linejoin="round"/>
<line x1="124.8" y1="139.5" x2="127.5" y2="160.8" stroke="#1e1e1e" stroke-width="1.3"/>
<line x1="94.9" y1="182.5" x2="127.5" y2="160.8" stroke="#1e1e1e" stroke-width="1.3"/>
<polygon points="66.4,175.7 71.1,177.3 76.6,245.7 71.9,244.9" fill="#ffffff" stroke="none" stroke-linejoin="round"/>
<line x1="66.4" y1="175.7" x2="71.9" y2="244.9" stroke="#1e1e1e" stroke-width="1.3"/>
<line x1="71.1" y1="177.3" x2="76.6" y2="245.7" stroke="#1e1e1e" stroke-width="1.56"/>
<line x1="73.5" y1="178.9" x2="79.0" y2="246.5" stroke="#1e1e1e" stroke-width="1.04"/>
<line x1="66.4" y1="175.7" x2="71.1" y2="177.3" stroke="#1e1e1e" stroke-width="1.3"/>
<polyline points="72.7,177.3 147.5,199.5" fill="none" stroke="#1e1e1e" stroke-width="1.56" stroke-linejoin="round"/>
<line x1="93.1" y1="183.5" x2="93.6" y2="205.5" stroke="#1e1e1e" stroke-width="1.04"/>
<line x1="112.0" y1="189.0" x2="112.8" y2="211.2" stroke="#1e1e1e" stroke-width="1.04"/>
<line x1="130.9" y1="194.7" x2="131.7" y2="216.7" stroke="#1e1e1e" stroke-width="1.04"/>
<polyline points="74.2,200.9 150.5,224.6" fill="none" stroke="#1e1e1e" stroke-width="1.56" stroke-linejoin="round"/>
<polyline points="74.2,203.8 150.5,228.5" fill="none" stroke="#1e1e1e" stroke-width="1.56" stroke-linejoin="round"/>
<line x1="75.5" y1="205.0" x2="80.5" y2="246.5" stroke="#1e1e1e" stroke-width="1.95"/>
<line x1="78.0" y1="205.5" x2="82.5" y2="246.8" stroke="#1e1e1e" stroke-width="1.04"/>
<line x1="94.2" y1="211.5" x2="97.4" y2="252.1" stroke="#1e1e1e" stroke-width="2.6"/>
<line x1="96.8" y1="212.5" x2="99.8" y2="252.8" stroke="#1e1e1e" stroke-width="1.04"/>
<line x1="130.7" y1="223.0" x2="133.8" y2="263.9" stroke="#1e1e1e" stroke-width="2.6"/>
<line x1="133.3" y1="224.0" x2="136.3" y2="264.5" stroke="#1e1e1e" stroke-width="1.04"/>
<line x1="148.5" y1="227.5" x2="150.5" y2="270.0" stroke="#1e1e1e" stroke-width="1.04"/>
<polyline points="80.5,246.5 97.9,252.1" fill="none" stroke="#1e1e1e" stroke-width="1.3" stroke-linejoin="round"/>
<polyline points="97.9,252.1 134.0,263.9" fill="none" stroke="#1e1e1e" stroke-width="1.82" stroke-linejoin="round"/>
<polyline points="136.0,264.5 152.5,270.0" fill="none" stroke="#1e1e1e" stroke-width="1.3" stroke-linejoin="round"/>
<polyline points="82.0,244.5 97.5,249.5" fill="none" stroke="#1e1e1e" stroke-width="0.78" stroke-linejoin="round"/>
<polyline points="100.0,250.0 134.0,261.0" fill="none" stroke="#1e1e1e" stroke-width="0.78" stroke-linejoin="round"/>
<polyline points="71.9,244.5 173.6,278.5" fill="none" stroke="#1e1e1e" stroke-width="1.3" stroke-linejoin="round"/>
<polygon points="221.7,123.3 250.8,103.4 253.6,104.2 257.8,115.5 257.8,150.8 222.5,149.4" fill="#ffffff" stroke="none" stroke-linejoin="round"/>
<polyline points="222.5,149.4 221.7,123.3 250.8,103.4 253.6,104.2 244.4,110.5 257.8,115.5" fill="none" stroke="#1e1e1e" stroke-width="1.3" stroke-linejoin="round"/>
<line x1="253.6" y1="104.2" x2="253.6" y2="111.0" stroke="#1e1e1e" stroke-width="1.17"/>
<polyline points="221.7,123.3 250.8,131.7 256.0,131.7" fill="none" stroke="#1e1e1e" stroke-width="1.3" stroke-linejoin="round"/>
<polyline points="257.8,115.5 240.8,127.5" fill="none" stroke="#1e1e1e" stroke-width="1.17" stroke-linejoin="round"/>
<polygon points="147.0,173.7 181.8,183.8 254.5,132.5 259.6,151.0 262.6,211.4 174.1,278.0 152.9,271.8" fill="#ffffff" stroke="none" stroke-linejoin="round"/>
<line x1="147.5" y1="174.4" x2="152.9" y2="271.8" stroke="#1e1e1e" stroke-width="1.43"/>
<line x1="149.8" y1="174.9" x2="155.2" y2="272.4" stroke="#1e1e1e" stroke-width="0.78"/>
<polyline points="147.0,173.7 181.8,183.8 254.5,132.5" fill="none" stroke="#1e1e1e" stroke-width="1.43" stroke-linejoin="round"/>
<polyline points="149.0,176.0 181.6,185.8 255.0,135.0" fill="none" stroke="#1e1e1e" stroke-width="0.91" stroke-linejoin="round"/>
<line x1="181.8" y1="183.8" x2="184.5" y2="236.0" stroke="#1e1e1e" stroke-width="1.3"/>
<polygon points="185.9,201.2 261.7,151.6 262.5,189.5 189.0,239.0" fill="#ffffff" stroke="none" stroke-linejoin="round"/>
<polyline points="185.9,201.2 192.7,202.7 261.7,153.5" fill="none" stroke="#1e1e1e" stroke-width="1.3" stroke-linejoin="round"/>
<polyline points="185.9,201.2 189.0,239.0 194.9,237.4 262.5,189.5" fill="none" stroke="#1e1e1e" stroke-width="1.3" stroke-linejoin="round"/>
<line x1="192.7" y1="202.7" x2="194.9" y2="236.3" stroke="#1e1e1e" stroke-width="1.43"/>
<polyline points="194.9,227.5 261.7,184.6" fill="none" stroke="#1e1e1e" stroke-width="1.3" stroke-linejoin="round"/>
<line x1="255.1" y1="157.3" x2="257.6" y2="185.0" stroke="#1e1e1e" stroke-width="1.04"/>
<line x1="209.1" y1="192.5" x2="210.0" y2="217.5" stroke="#1e1e1e" stroke-width="1.17"/>
<line x1="231.4" y1="177.2" x2="232.2" y2="202.5" stroke="#1e1e1e" stroke-width="1.17"/>
<line x1="253.5" y1="161.5" x2="254.3" y2="187.0" stroke="#1e1e1e" stroke-width="1.17"/>
<line x1="171.0" y1="235.6" x2="174.0" y2="278.2" stroke="#1e1e1e" stroke-width="1.43"/>
<line x1="173.2" y1="237.5" x2="176.0" y2="278.0" stroke="#1e1e1e" stroke-width="0.91"/>
<polyline points="171.0,235.6 188.9,237.8" fill="none" stroke="#1e1e1e" stroke-width="1.17" stroke-linejoin="round"/>
<polyline points="175.5,255.0 214.3,231.1" fill="none" stroke="#1e1e1e" stroke-width="1.3" stroke-linejoin="round"/>
<polyline points="174.0,249.0 186.0,246.0" fill="none" stroke="#1e1e1e" stroke-width="1.04" stroke-linejoin="round"/>
<polygon points="175.5,244.0 182.0,240.5 190.0,243.0 183.5,247.0" fill="#ffffff" stroke="#1e1e1e" stroke-width="1.43" stroke-linejoin="round"/>
<polyline points="177.5,244.3 182.5,241.8 188.0,243.5" fill="none" stroke="#1e1e1e" stroke-width="0.91" stroke-linejoin="round"/>
<line x1="182.2" y1="261.0" x2="183.0" y2="269.5" stroke="#1e1e1e" stroke-width="1.17"/>
<line x1="190.4" y1="249.0" x2="191.2" y2="265.0" stroke="#1e1e1e" stroke-width="1.17"/>
<line x1="198.6" y1="245.0" x2="199.4" y2="259.0" stroke="#1e1e1e" stroke-width="1.17"/>
<line x1="206.1" y1="240.0" x2="206.9" y2="252.5" stroke="#1e1e1e" stroke-width="1.17"/>
<polyline points="174.0,278.2 263.7,212.4" fill="none" stroke="#1e1e1e" stroke-width="1.3" stroke-linejoin="round"/>
<polygon points="214.3,230.4 229.3,225.9 229.3,237.8 215.1,246.8" fill="#ffffff" stroke="#1e1e1e" stroke-width="1.17" stroke-linejoin="round"/>
<polygon points="219.0,236.5 227.0,231.5 227.0,234.5 219.0,239.5" fill="#ffffff" stroke="#1e1e1e" stroke-width="1.17" stroke-linejoin="round"/>
<polyline points="215.0,240.0 229.3,231.0" fill="none" stroke="#1e1e1e" stroke-width="0.91" stroke-linejoin="round"/>
<line x1="228.9" y1="210.0" x2="229.6" y2="239.0" stroke="#1e1e1e" stroke-width="1.17"/>
<line x1="235.3" y1="208.0" x2="238.2" y2="231.9" stroke="#1e1e1e" stroke-width="2.08"/>
<line x1="237.5" y1="207.0" x2="240.0" y2="230.5" stroke="#1e1e1e" stroke-width="0.78"/>
<line x1="242.7" y1="204.2" x2="245.0" y2="225.1" stroke="#1e1e1e" stroke-width="1.17"/>
<polyline points="214.3,231.0 212.5,224.0 217.0,223.0 218.5,229.0" fill="none" stroke="#1e1e1e" stroke-width="1.04" stroke-linejoin="round"/>
<line x1="257.8" y1="115.5" x2="263.7" y2="212.4" stroke="#1e1e1e" stroke-width="1.3"/>
<line x1="258.5" y1="150.0" x2="260.5" y2="190.0" stroke="#1e1e1e" stroke-width="0.0"/>
<polyline points="263.7,212.4 289.2,219.5" fill="none" stroke="#1e1e1e" stroke-width="1.3" stroke-linejoin="round"/>
<line x1="136.7" y1="114.8" x2="137.0" y2="124.5" stroke="#1e1e1e" stroke-width="1.04"/>
<line x1="155.9" y1="120.8" x2="156.2" y2="130.4" stroke="#1e1e1e" stroke-width="1.04"/>
<line x1="175.2" y1="126.8" x2="175.5" y2="137.0" stroke="#1e1e1e" stroke-width="1.04"/>
<line x1="193.7" y1="132.5" x2="194.0" y2="143.0" stroke="#1e1e1e" stroke-width="1.04"/>
<line x1="213.0" y1="138.5" x2="213.3" y2="148.9" stroke="#1e1e1e" stroke-width="1.04"/>
<polyline points="117.4,108.9 222.6,141.5" fill="none" stroke="#1e1e1e" stroke-width="2.21" stroke-linejoin="round"/>
<line x1="117.4" y1="108.9" x2="118.1" y2="120.7" stroke="#1e1e1e" stroke-width="1.3"/>
<polyline points="75.9,165.2 79.0,168.0 124.0,139.5" fill="none" stroke="#1e1e1e" stroke-width="0.0" stroke-linejoin="round"/>
<polyline points="80.4,157.8 79.5,162.5" fill="none" stroke="#1e1e1e" stroke-width="1.17" stroke-linejoin="round"/>
<path d="M117.0,126.5 Q117.0,123.5 120.0,122.5 L133.0,120.5 Q136.0,119.5 136.0,123.5 L135.0,133.5 Q135.0,136.5 131.0,137.5 L125.0,138.5 Q121.0,137.5 118.0,133.5 Z" fill="#fff" stroke="#1e1e1e" stroke-width="1"/>
<path d="M117.0,126.5 Q120.0,129.5 125.0,130.5 L132.0,128.5 Q135.0,128.5 135.0,132.5 L131.0,137.5" fill="none" stroke="#1e1e1e" stroke-width="0.8"/>
<line x1="128.0" y1="137.0" x2="129.3" y2="146.0" stroke="#1e1e1e" stroke-width="1.56"/>
<line x1="124.0" y1="136.0" x2="124.5" y2="141.0" stroke="#1e1e1e" stroke-width="1.04"/>
<path d="M149.5,136.5 Q149.5,133.5 152.4,132.5 L165.2,130.6 Q168.1,129.6 168.1,133.5 L167.1,143.3 Q167.1,146.3 163.2,147.2 L157.3,148.2 Q153.4,147.2 150.5,143.3 Z" fill="#fff" stroke="#1e1e1e" stroke-width="1"/>
<path d="M149.5,136.5 Q152.4,139.4 157.3,140.4 L164.2,138.4 Q167.1,138.4 167.1,142.3 L163.2,147.2" fill="none" stroke="#1e1e1e" stroke-width="0.8"/>
<polyline points="150.0,147.0 157.0,141.0 166.0,145.0" fill="none" stroke="#1e1e1e" stroke-width="1.17" stroke-linejoin="round"/>
<path d="M172.5,144.1 Q172.5,141.1 175.6,140.1 L188.8,138.0 Q191.9,137.0 191.9,141.1 L190.9,151.3 Q190.9,154.3 186.8,155.4 L180.7,156.4 Q176.6,155.4 173.5,151.3 Z" fill="#fff" stroke="#1e1e1e" stroke-width="1"/>
<path d="M172.5,144.1 Q175.6,147.2 180.7,148.2 L187.8,146.2 Q190.9,146.2 190.9,150.3 L186.8,155.4" fill="none" stroke="#1e1e1e" stroke-width="0.8"/>
<line x1="183.0" y1="154.0" x2="184.0" y2="162.0" stroke="#1e1e1e" stroke-width="1.17"/>
<ellipse cx="143.3" cy="131.9" rx="8" ry="3.8" fill="#fff" stroke="#1e1e1e" stroke-width="0.9"/>
<line x1="142.7" y1="135.7" x2="142.7" y2="145.4" stroke="#1e1e1e" stroke-width="1.17"/>
<line x1="144.2" y1="135.7" x2="144.2" y2="145.4" stroke="#1e1e1e" stroke-width="1.17"/>
<ellipse cx="143.5" cy="146.1" rx="3" ry="1.3" fill="#fff" stroke="#1e1e1e" stroke-width="0.9"/>
<ellipse cx="198.1" cy="149.6" rx="8" ry="3.8" fill="#fff" stroke="#1e1e1e" stroke-width="0.9"/>
<line x1="197.5" y1="153.4" x2="197.5" y2="163.1" stroke="#1e1e1e" stroke-width="1.17"/>
<line x1="199.0" y1="153.4" x2="199.0" y2="163.1" stroke="#1e1e1e" stroke-width="1.17"/>
<ellipse cx="198.29999999999998" cy="163.79999999999998" rx="3" ry="1.3" fill="#fff" stroke="#1e1e1e" stroke-width="0.9"/>
<path d="M212.6,151.2 Q212.6,149.4 214.4,148.8 L222.2,147.6 Q224.0,147.0 224.0,149.4 L223.4,155.4 Q223.4,157.2 221.0,157.8 L217.4,158.4 Q215.0,157.8 213.2,155.4 Z" fill="#fff" stroke="#1e1e1e" stroke-width="1"/>
<path d="M212.6,151.2 Q214.4,153.0 217.4,153.6 L221.6,152.4 Q223.4,152.4 223.4,154.8 L221.0,157.8" fill="none" stroke="#1e1e1e" stroke-width="0.8"/>
<polygon points="139.0,168.7 160.9,154.6 180.8,161.0 158.8,175.1" fill="#fff" stroke="#1e1e1e" stroke-width="1.3" stroke-linejoin="round"/>
<polyline points="150.0,172.0 171.0,158.0" fill="none" stroke="#1e1e1e" stroke-width="1.04" stroke-linejoin="round"/>
<polygon points="114.2,184.3 134.8,170.8 148.9,175.1 131.2,189.2" fill="#fff" stroke="#1e1e1e" stroke-width="1.3" stroke-linejoin="round"/>
<polyline points="122.0,187.0 142.0,173.0" fill="none" stroke="#1e1e1e" stroke-width="1.04" stroke-linejoin="round"/>
<path d="M97.0,184.0 L96.5,178.0 Q97.5,175.0 100.0,176.0 L103.0,181.5 L104.0,184.5" fill="#fff" stroke="#1e1e1e" stroke-width="1"/>
<polyline points="97.0,184.0 100.0,187.0 108.0,184.5 104.0,182.5" fill="none" stroke="#1e1e1e" stroke-width="1.17" stroke-linejoin="round"/>
<line x1="100.0" y1="187.0" x2="100.3" y2="189.0" stroke="#1e1e1e" stroke-width="1.04"/>
<path d="M108.5,177.0 L108.0,171.0 Q109.0,168.0 111.5,169.0 L114.5,174.5 L115.5,177.5" fill="#fff" stroke="#1e1e1e" stroke-width="1"/>
<polyline points="108.5,177.0 111.5,180.0 119.5,177.5 115.5,175.5" fill="none" stroke="#1e1e1e" stroke-width="1.17" stroke-linejoin="round"/>
<line x1="111.5" y1="180.0" x2="111.8" y2="182.0" stroke="#1e1e1e" stroke-width="1.04"/>
<path d="M120.0,170.0 L119.5,164.0 Q120.5,161.0 123.0,162.0 L126.0,167.5 L127.0,170.5" fill="#fff" stroke="#1e1e1e" stroke-width="1"/>
<polyline points="120.0,170.0 123.0,173.0 131.0,170.5 127.0,168.5" fill="none" stroke="#1e1e1e" stroke-width="1.17" stroke-linejoin="round"/>
<line x1="123.0" y1="173.0" x2="123.3" y2="175.0" stroke="#1e1e1e" stroke-width="1.04"/>
<path d="M131.5,163.0 L131.0,157.0 Q132.0,154.0 134.5,155.0 L137.5,160.5 L138.5,163.5" fill="#fff" stroke="#1e1e1e" stroke-width="1"/>
<polyline points="131.5,163.0 134.5,166.0 142.5,163.5 138.5,161.5" fill="none" stroke="#1e1e1e" stroke-width="1.17" stroke-linejoin="round"/>
<line x1="134.5" y1="166.0" x2="134.8" y2="168.0" stroke="#1e1e1e" stroke-width="1.04"/>
<path d="M143.0,156.0 L142.5,150.0 Q143.5,147.0 146.0,148.0 L149.0,153.5 L150.0,156.5" fill="#fff" stroke="#1e1e1e" stroke-width="1"/>
<polyline points="143.0,156.0 146.0,159.0 154.0,156.5 150.0,154.5" fill="none" stroke="#1e1e1e" stroke-width="1.17" stroke-linejoin="round"/>
<line x1="146.0" y1="159.0" x2="146.3" y2="161.0" stroke="#1e1e1e" stroke-width="1.04"/>
<path d="M164.0,177.0 L165.0,169.0 Q168.0,166.0 171.0,168.0 L170.0,176.0 Z" fill="#fff" stroke="#1e1e1e" stroke-width="1"/>
<polyline points="165.0,176.0 164.5,181.0" fill="none" stroke="#1e1e1e" stroke-width="1.56" stroke-linejoin="round"/>
<polyline points="169.0,176.0 170.0,180.0" fill="none" stroke="#1e1e1e" stroke-width="1.56" stroke-linejoin="round"/>
<polyline points="167.0,175.0 167.0,181.0" fill="none" stroke="#1e1e1e" stroke-width="1.17" stroke-linejoin="round"/>
<path d="M171.5,173.0 L172.5,165.0 Q175.5,162.0 178.5,164.0 L177.5,172.0 Z" fill="#fff" stroke="#1e1e1e" stroke-width="1"/>
<polyline points="172.5,172.0 172.0,177.0" fill="none" stroke="#1e1e1e" stroke-width="1.56" stroke-linejoin="round"/>
<polyline points="176.5,172.0 177.5,176.0" fill="none" stroke="#1e1e1e" stroke-width="1.56" stroke-linejoin="round"/>
<polyline points="174.5,171.0 174.5,177.0" fill="none" stroke="#1e1e1e" stroke-width="1.17" stroke-linejoin="round"/>
<path d="M179.0,169.0 L180.0,161.0 Q183.0,158.0 186.0,160.0 L185.0,168.0 Z" fill="#fff" stroke="#1e1e1e" stroke-width="1"/>
<polyline points="180.0,168.0 179.5,173.0" fill="none" stroke="#1e1e1e" stroke-width="1.56" stroke-linejoin="round"/>
<polyline points="184.0,168.0 185.0,172.0" fill="none" stroke="#1e1e1e" stroke-width="1.56" stroke-linejoin="round"/>
<polyline points="182.0,167.0 182.0,173.0" fill="none" stroke="#1e1e1e" stroke-width="1.17" stroke-linejoin="round"/>
<polyline points="124.2,137.6 147.0,173.7" fill="none" stroke="#1e1e1e" stroke-width="0.0" stroke-linejoin="round"/>
</svg>
</body></html>
